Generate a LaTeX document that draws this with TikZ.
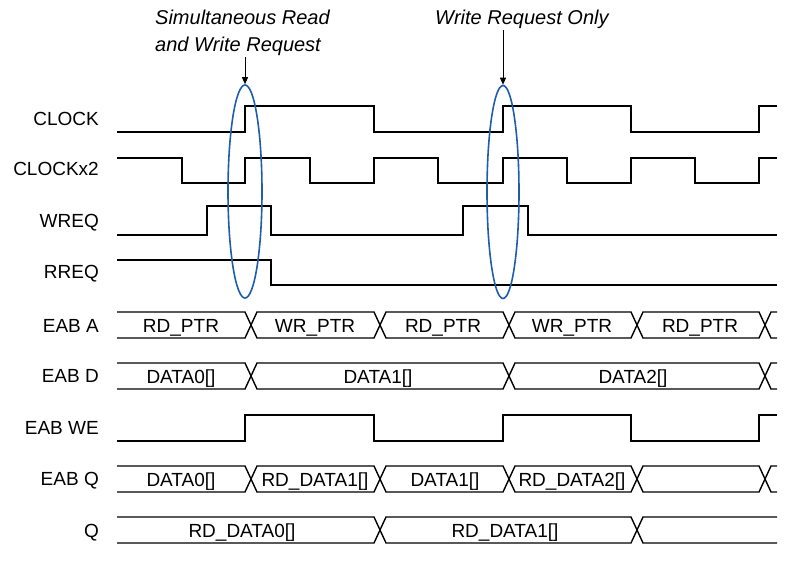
\documentclass[tikz,border=0pt]{standalone}
\usepackage{fontspec}
\setmainfont{Liberation Sans}
\usetikzlibrary{shapes.geometric,arrows.meta}
\definecolor{ellblue}{RGB}{30,92,172}
\newcommand\busfirst[2]{% yc, first crossing edge
  \draw[sig] (117,{#1-13}) -- (#2,{#1-13}) -- ({#2+6},#1) -- (#2,{#1+13}) -- (117,{#1+13});}
\newcommand\busseg[3]{% yc, edge1, edge2
  \draw[sig] ({#2+6},#1) -- ({#2+12},{#1-13}) -- (#3,{#1-13}) -- ({#3+6},#1) -- (#3,{#1+13}) -- ({#2+12},{#1+13}) -- cycle;}
\newcommand\buslast[2]{% yc, last crossing edge
  \draw[sig] (777,{#1-13}) -- ({#2+12},{#1-13}) -- ({#2+6},#1) -- ({#2+12},{#1+13}) -- (777,{#1+13});}
\begin{document}
\begin{tikzpicture}[x=1pt,y=-1pt,
  sig/.style={line width=1.4pt,line join=miter},
  lbl/.style={font=\fontsize{19}{22}\selectfont,anchor=base east,inner sep=0pt},
  bl/.style={font=\fontsize{19}{22}\selectfont,anchor=base,inner sep=0pt},
  ann/.style={font=\fontsize{20}{27}\selectfont\itshape,align=left,anchor=base west,inner sep=0pt},
  ring/.style={draw=ellblue,line width=1.6pt,ellipse,inner sep=0pt,minimum width=34pt,minimum height=213pt},
  pointer/.style={line width=0.9pt,-{Triangle[length=7pt,width=6pt]}}]
\useasboundingbox (0,0) rectangle (787,580);

% signal names
\node[lbl] (nclk) at (99,126) {CLOCK};
\node[lbl] (nclk2) at (99,176) {CLOCKx2};
\node[lbl] (nwreq) at (99,228) {WREQ};
\node[lbl] (nrreq) at (99,278) {RREQ};
\node[lbl] (neaba) at (99,332) {EAB A};
\node[lbl] (neabd) at (99,382) {EAB D};
\node[lbl] (neabwe) at (99,434) {EAB WE};
\node[lbl] (neabq) at (99,485) {EAB Q};
\node[lbl] (nq) at (99,537) {Q};

% CLOCK
\draw[sig] (117,132) -- (245,132) -- (245,106) -- (374,106) -- (374,132) -- (503,132) -- (503,106) -- (631,106) -- (631,132) -- (759,132) -- (759,106) -- (777,106);
% CLOCKx2
\draw[sig] (117,158) -- (182,158) -- (182,183) -- (245,183) -- (245,158) -- (310,158) -- (310,183) -- (374,183) -- (374,158) -- (438,158) -- (438,183) -- (503,183) -- (503,158) -- (567,158) -- (567,183) -- (631,183) -- (631,158) -- (695,158) -- (695,183) -- (759,183) -- (759,158) -- (777,158);
% WREQ
\draw[sig] (117,235) -- (207,235) -- (207,206) -- (271,206) -- (271,235) -- (463,235) -- (463,206) -- (528,206) -- (528,235) -- (777,235);
% RREQ
\draw[sig] (117,260) -- (271,260) -- (271,285) -- (777,285);

% EAB A
\busfirst{325}{245}
\busseg{325}{245}{374}
\busseg{325}{374}{503}
\busseg{325}{503}{631}
\busseg{325}{631}{759}
\buslast{325}{759}
\node[bl] (a1) at (181,332) {RD\_PTR};
\node[bl] (a2) at (315,332) {WR\_PTR};
\node[bl] (a3) at (443,332) {RD\_PTR};
\node[bl] (a4) at (572,332) {WR\_PTR};
\node[bl] (a5) at (700,332) {RD\_PTR};

% EAB D
\busfirst{376}{245}
\busseg{376}{245}{503}
\busseg{376}{503}{759}
\buslast{376}{759}
\node[bl] (d1) at (181,383) {DATA0[]};
\node[bl] (d2) at (378,383) {DATA1[]};
\node[bl] (d3) at (633,383) {DATA2[]};

% EAB WE
\draw[sig] (117,441) -- (245,441) -- (245,415) -- (374,415) -- (374,441) -- (503,441) -- (503,415) -- (631,415) -- (631,441) -- (759,441) -- (759,415) -- (777,415);

% EAB Q
\busfirst{479}{245}
\busseg{479}{245}{374}
\busseg{479}{374}{503}
\busseg{479}{503}{631}
\busseg{479}{631}{759}
\buslast{479}{759}
\node[bl] (q1) at (181,486) {DATA0[]};
\node[bl] (q2) at (315,486) {RD\_DATA1[]};
\node[bl] (q3) at (445,486) {DATA1[]};
\node[bl] (q4) at (572,486) {RD\_DATA2[]};

% Q
\busfirst{530}{374}
\busseg{530}{374}{631}
\buslast{530}{631}
\node[bl] (o1) at (242,537) {RD\_DATA0[]};
\node[bl] (o2) at (505,537) {RD\_DATA1[]};

% highlight rings
\node[ring] (ell1) at (245,191.5) {};
\node[ring,minimum width=32pt] (ell2) at (503,192) {};

% annotations
\node[ann] (ann1) at (155,52) {Simultaneous Read\\and Write Request};
\node[ann] (ann2) at (435,25) {Write Request Only};
\draw[pointer] (ell1.north |- 0,57) -- (ell1.north);
\draw[pointer] (ell2.north |- 0,30) -- (ell2.north);
\end{tikzpicture}
\end{document}
